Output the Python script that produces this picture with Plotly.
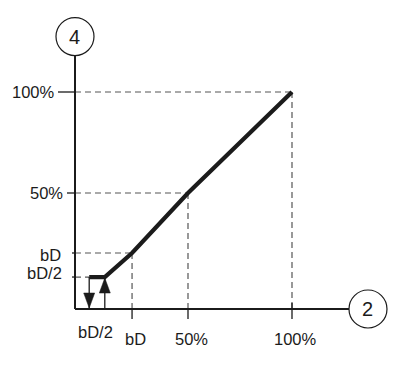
import plotly.graph_objects as go

# ---------------- data ----------------
x_tick_labels = ["bD", "50%", "100%"]
x_tick_vals = [23.1, 50, 100]
y_tick_labels = ["bD/2", "bD", "50%", "100%"]
y_tick_vals = [8.4, 20.3, 50, 100]
curve_x = [2.5, 10.0, 23.1, 50, 100]
curve_y = [8.4, 8.4, 20.3, 50, 100]
switch_x = [2.5, 10.0]          # switch-off (down arrow), switch-on (up arrow)
switch_y = 8.4
switch_label = "bD/2"
x_axis_name = "2"
y_axis_name = "4"

# ---------------- geometry / style ----------------
X0, Y0 = -4.33, -7.43          # where the axes cross
X_END, Y_END = 127.4, 118.3     # axis ends
INK = "#1b1b1b"
GUIDE = "#555555"
FONT = "Liberation Sans, Arial, sans-serif"
PAGE_OFFSET = 8                 # default body margin of the html page
W, H = 396 - PAGE_OFFSET, 365 - PAGE_OFFSET

fig = go.Figure()

fig.add_trace(go.Scatter(x=curve_x, y=curve_y, mode="lines",
                         line=dict(color=INK, width=4.2), hoverinfo="skip"))

shapes = []

def line(x0, y0, x1, y1, color=INK, width=1.3, dash=None):
    d = dict(type="line", xref="x", yref="y", x0=x0, y0=y0, x1=x1, y1=y1,
             line=dict(color=color, width=width), layer="below")
    if dash:
        d["line"]["dash"] = dash
    shapes.append(d)

# dashed guides
guide_x = x_tick_vals
guide_y = y_tick_vals[1:]
for gx, gy in zip(guide_x, guide_y):
    line(X0, gy, gx, gy, GUIDE, 1.2, "6px,4px")
    line(gx, gy, gx, Y0, GUIDE, 1.2, "6px,4px")
line(X0, switch_y, switch_x[0], switch_y, GUIDE, 1.2, "6px,4px")

# axes
line(X0, Y0, X_END, Y0, INK, 2)
line(X0, Y0, X0, Y_END, INK, 2)

# x ticks (pixel lengths)
x_tick_up = [0, 0, 6]
for v, up in zip(x_tick_vals, x_tick_up):
    shapes.append(dict(type="line", xref="x", yref="y", ysizemode="pixel", yanchor=Y0,
                       x0=v, x1=v, y0=up, y1=-10, line=dict(color=INK, width=1.3)))
# y ticks
y_tick_len = [3, 3, 8, 17]
for v, ln in zip(y_tick_vals, y_tick_len):
    shapes.append(dict(type="line", xref="x", yref="y", xsizemode="pixel", xanchor=X0,
                       x0=-ln, x1=0, y0=v, y1=v, line=dict(color=INK, width=1.3)))

# switching arrows
line(switch_x[0], switch_y, switch_x[0], Y0, INK, 1.3)
line(switch_x[1], Y0, switch_x[1], switch_y, INK, 1.3)
shapes.append(dict(type="path", xref="x", yref="y", xsizemode="pixel", ysizemode="pixel",
                   xanchor=switch_x[0], yanchor=Y0, path="M-5.5,16 L5.5,16 L0,1 Z",
                   fillcolor=INK, line=dict(color=INK, width=0.5)))
shapes.append(dict(type="path", xref="x", yref="y", xsizemode="pixel", ysizemode="pixel",
                   xanchor=switch_x[1], yanchor=switch_y, path="M-5.5,-16 L5.5,-16 L0,-1 Z",
                   fillcolor=INK, line=dict(color=INK, width=0.5)))

# axis name circles
shapes.append(dict(type="circle", xref="x", yref="y", xsizemode="pixel", ysizemode="pixel",
                   xanchor=X0, yanchor=Y_END, x0=-19, x1=19, y0=-0.5, y1=37.5,
                   line=dict(color=INK, width=1.2), fillcolor="white"))
shapes.append(dict(type="circle", xref="x", yref="y", xsizemode="pixel", ysizemode="pixel",
                   xanchor=X_END, yanchor=Y0, x0=0, x1=38, y0=-19, y1=19,
                   line=dict(color=INK, width=1.2), fillcolor="white"))

annotations = []
def label(text, x, y, xanchor="center", xshift=0, yshift=0, size=16.5):
    annotations.append(dict(text=text, x=x, y=y, xref="x", yref="y", showarrow=False,
                            xanchor=xanchor, yanchor="middle", xshift=xshift, yshift=yshift,
                            font=dict(family=FONT, size=size, color=INK)))

for t, v in zip(x_tick_labels, x_tick_vals):
    label(t, v, Y0, xshift=3, yshift=-30)
label(switch_label, sum(switch_x) / 2, Y0, xshift=-2, yshift=-22.5)

y_shift_x = [-11, -12, -10, -18]
y_shift_y = [4, -2, 0, 0]
for t, v, sx, sy in zip(y_tick_labels, y_tick_vals, y_shift_x, y_shift_y):
    label(t, X0, v, xanchor="right", xshift=sx, yshift=sy)

label(y_axis_name, X0, Y_END, yshift=18.5, size=20)
label(x_axis_name, X_END, Y0, xshift=19, size=20)

fig.update_layout(
    width=W, height=H,
    margin=dict(l=0, r=0, t=0, b=0),
    paper_bgcolor="white", plot_bgcolor="white",
    showlegend=False,
    xaxis=dict(range=[(PAGE_OFFSET - 84) / 2.08, (396 - 84) / 2.08], visible=False, fixedrange=True),
    yaxis=dict(range=[(294 - 365) / 2.02, (294 - PAGE_OFFSET) / 2.02], visible=False, fixedrange=True),
    shapes=shapes, annotations=annotations,
)

fig.write_html("out.html")
